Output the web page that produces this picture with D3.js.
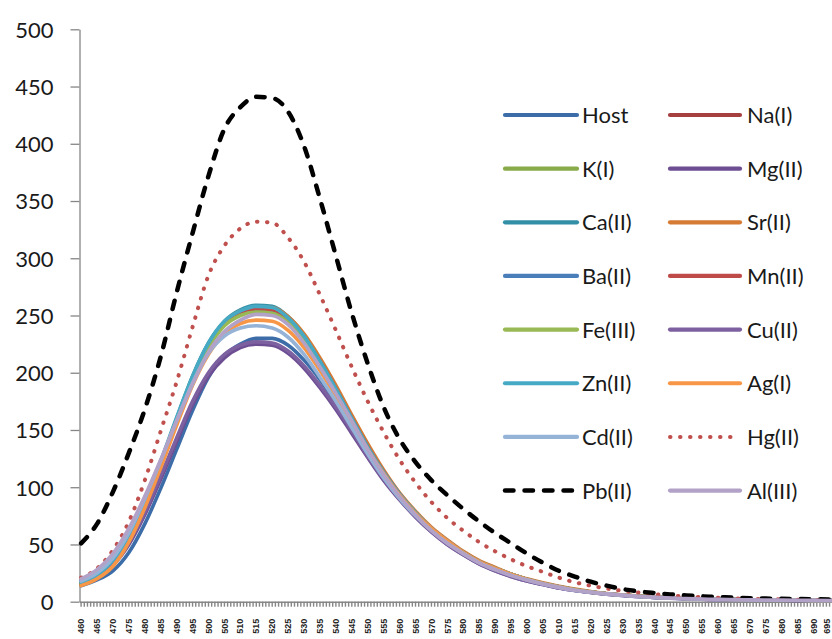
<!DOCTYPE html>
<html>
<head>
<meta charset="utf-8">
<script src="https://cdn.jsdelivr.net/npm/d3@7"></script>
<style>
  html, body { margin: 0; padding: 0; background: #fff; }
  svg { display: block; font-family: Lato, "Open Sans", sans-serif; }
</style>
</head>
<body>
<svg id="chart" width="832" height="639"></svg>
<script>
// Emission spectra (nm vs intensity) of the host and its metal-ion adducts.
const sampleNm = [460,465,470,475,480,485,490,495,500,505,510,515,520,525,530,535,540,545,550,555,560,565,570,575,580,585,590,595,600,605,610,615,620,625,630,635,640,645,650,655,660,665,670,675,680,685,690,695,700];
const yTicks = [0,50,100,150,200,250,300,350,400,450,500];

const host  = [14,19,27,43,68,99,133,167,196,215,225,230,230,224,211,194,174,152,130,110,92,76,63,52,42,34,28,23,19,15.5,12.5,10,8.2,6.8,5.6,4.6,3.8,3.2,2.7,2.3,2,1.8,1.6,1.5,1.4,1.3,1.2,1.1,1];
const naI   = [16,22,34,56,86,121,159,195,224,243,252,256,255,246,230,209,185,160,135,113,94,77,64,53,43,35,29,24,19.5,16,13,10.5,8.5,7,5.8,4.8,4,3.3,2.8,2.4,2.1,1.9,1.7,1.5,1.4,1.3,1.2,1.1,1];
const kI    = [16,22,34,55,85,120,158,194,223,242,251,254,253,245,229,208,184,159,134,112,93,77,63,52,43,35,29,24,19.5,16,13,10.5,8.5,7,5.8,4.8,4,3.3,2.8,2.4,2.1,1.9,1.7,1.5,1.4,1.3,1.2,1.1,1];
const mgII  = [18,23,32,50,76,107,140,172,197,213,222,225,224,217,204,187,168,147,126,106,89,74,61,50,41,33,27,22,18,15,12,9.8,8,6.6,5.4,4.5,3.7,3.1,2.6,2.2,1.9,1.7,1.5,1.4,1.3,1.2,1.1,1,1];
const caII  = [17,23,35,57,87,122,160,197,226,245,255,259,258,249,233,211,187,161,136,114,94,78,64,53,43,35,29,24,19.5,16,13,10.5,8.5,7,5.8,4.8,4,3.3,2.8,2.4,2.1,1.9,1.7,1.5,1.4,1.3,1.2,1.1,1];
const srII  = [15,21,33,55,85,121,159,196,225,244,254,257,257,249,234,213,189,163,138,115,95,79,65,54,44,36,30,24,20,16.5,13.5,11,8.8,7.2,6,5,4.1,3.4,2.9,2.5,2.2,1.9,1.7,1.5,1.4,1.3,1.2,1.1,1];
const baII  = [16,22,34,56,86,121,159,195,224,243,252,255,254,246,230,209,185,160,135,113,94,77,64,53,43,35,29,24,19.5,16,13,10.5,8.5,7,5.8,4.8,4,3.3,2.8,2.4,2.1,1.9,1.7,1.5,1.4,1.3,1.2,1.1,1];
const mnII  = [16,22,34,56,86,121,159,195,224,243,253,256,255,247,231,210,186,160,135,113,94,77,64,53,43,35,29,24,19.5,16,13,10.5,8.5,7,5.8,4.8,4,3.3,2.8,2.4,2.1,1.9,1.7,1.5,1.4,1.3,1.2,1.1,1];
const feIII = [16,22,34,56,86,121,158,194,222,241,250,253,252,244,228,207,184,159,134,112,93,77,63,52,43,35,29,24,19.5,16,13,10.5,8.5,7,5.8,4.8,4,3.3,2.8,2.4,2.1,1.9,1.7,1.5,1.4,1.3,1.2,1.1,1];
const cuII  = [18,24,33,52,78,110,143,175,200,216,224,227,226,219,206,189,170,149,127,107,90,74,61,50,41,33,27,22,18,15,12,9.8,8,6.6,5.4,4.5,3.7,3.1,2.6,2.2,1.9,1.7,1.5,1.4,1.3,1.2,1.1,1,1];
const znII  = [17,23,36,58,88,123,161,197,226,245,254,258,257,248,232,210,186,160,135,113,94,78,64,53,43,35,29,24,19.5,16,13,10.5,8.5,7,5.8,4.8,4,3.3,2.8,2.4,2.1,1.9,1.7,1.5,1.4,1.3,1.2,1.1,1];
const agI   = [14,20,31,52,82,117,154,189,216,234,243,246,245,237,222,202,180,157,133,112,93,77,64,53,43,35,29,24,19.5,16,13,10.5,8.5,7,5.8,4.8,4,3.3,2.8,2.4,2.1,1.9,1.7,1.5,1.4,1.3,1.2,1.1,1];
const cdII  = [18,25,38,60,90,123,158,191,217,232,239,241,239,231,216,196,175,152,129,108,90,75,62,51,42,34,28,23,19,15.5,12.5,10,8.2,6.8,5.6,4.6,3.8,3.2,2.7,2.3,2,1.8,1.6,1.5,1.4,1.3,1.2,1.1,1];
const hgII  = [21,29,45,70,106,149,192,240,285,311,326,332,331,318,297,268,237,205,175,148,124,104,87,73,62,52,44,37,31,26,21,17,14,11.5,9.5,8,6.5,5.5,4.6,4,3.4,3,2.6,2.3,2,1.8,1.6,1.5,1.4];
const pbII  = [51,68,96,130,168,214,270,322,372,413,432,441,440,428,398,352,302,252,208,170,142,122,106,93,81,70,60,51,42,34,27,22,17.5,14,11,9,7.6,6.4,5.4,4.7,4.1,3.5,3,2.7,2.5,2.3,2.1,2,1.9];
const alIII = [20,28,42,64,92,124,158,190,218,236,246,251,250,242,226,205,182,158,133,111,92,76,62,51,42,34,28,23,19,15.5,12.5,10,8.2,6.8,5.6,4.6,3.8,3.2,2.7,2.3,2,1.8,1.6,1.5,1.4,1.3,1.2,1.1,1];

const seriesNames  = ["Host","Na(I)","K(I)","Mg(II)","Ca(II)","Sr(II)","Ba(II)","Mn(II)","Fe(III)","Cu(II)","Zn(II)","Ag(I)","Cd(II)","Hg(II)","Pb(II)","Al(III)"];
const seriesValues = [host, naI, kI, mgII, caII, srII, baII, mnII, feIII, cuII, znII, agI, cdII, hgII, pbII, alIII];
const seriesColors = ["#3d6da8","#a5403e","#88aa48","#6d4e93","#338fa6","#d57b33","#4a7ebb","#be4b48","#98b954","#7d60a0","#46aac5","#f79646","#95b3d7","#c0504d","#000000","#b3a2c7"];
const seriesStyle  = ["solid","solid","solid","solid","solid","solid","solid","solid","solid","solid","solid","solid","solid","dot","dash","solid"];

// One category per nanometre on the horizontal axis, labelled every 5 nm.
const wavelengthAxis = d3.range(460, 701);

const svg = d3.select("#chart");
svg.append("rect").attr("width", 832).attr("height", 639).attr("fill", "#fff");

const plotLeft = 79.5, plotTop = 29.3, plotBottom = 601.7;
const step = 3.185;
const viewRight = 832;

const x = d3.scaleBand().domain(wavelengthAxis).range([plotLeft, plotLeft + wavelengthAxis.length * step]).padding(0);
const xc = w => x(w) + x.bandwidth() / 2;
const y = d3.scaleLinear().domain([0, 500]).range([plotBottom, plotTop]);

const axisColor = "#868686";

// Vertical axis
const yAxis = svg.append("g")
  .attr("transform", `translate(${plotLeft},0)`)
  .call(d3.axisLeft(y).tickValues(yTicks).tickSize(9).tickSizeOuter(0).tickPadding(17));
yAxis.select(".domain").attr("stroke", axisColor).attr("stroke-width", 1.3);
yAxis.selectAll(".tick line").attr("stroke", axisColor).attr("stroke-width", 1.3);
yAxis.selectAll(".tick text")
  .attr("fill", "#1a1a1a")
  .attr("dy", "0.36em")
  .style("font-size", "22px")
  .style("font-family", "Lato, 'Open Sans', sans-serif");

// Horizontal axis: tick on every nanometre, labels only where they fall inside the view
const labelled = w => w % 5 === 0 && xc(w) < viewRight;
const xAxis = svg.append("g")
  .attr("transform", `translate(0,${plotBottom})`)
  .call(d3.axisBottom(x).tickValues(wavelengthAxis).tickSize(5).tickSizeOuter(0)
    .tickFormat(w => (labelled(w) ? String(w) : "")));
xAxis.select(".domain").attr("stroke", axisColor).attr("stroke-width", 1.6);
xAxis.selectAll(".tick line").attr("stroke", axisColor).attr("stroke-width", 1.4);
xAxis.selectAll(".tick text")
  // a label sitting on the right border is nudged left so it stays whole
  .attr("transform", w => {
    const overflow = Math.max(0, xc(w) + 5 - viewRight);
    return `translate(${-overflow},0) rotate(-90)`;
  })
  .attr("x", -17)
  .attr("y", 0)
  .attr("dy", "0.35em")
  .style("text-anchor", "end")
  .attr("fill", "#222")
  .style("font-size", "9px")
  .style("font-weight", "bold")
  .style("font-family", "'Liberation Sans', Arial, sans-serif");

// Spectra
const line = d3.line()
  .x(d => xc(d[0]))
  .y(d => y(d[1]))
  .curve(d3.curveMonotoneX);

function applyStyle(sel, i) {
  const s = seriesStyle[i];
  sel.attr("stroke", seriesColors[i]).attr("fill", "none")
    .attr("stroke-linejoin", "round").attr("stroke-linecap", "round");
  if (s === "dash") {
    sel.attr("stroke-width", 4.5).attr("stroke-dasharray", "8.5,11");
  } else if (s === "dot") {
    sel.attr("stroke-width", 4).attr("stroke-dasharray", "0.5,9.5");
  } else {
    sel.attr("stroke-width", 3.6);
  }
  return sel;
}

const plot = svg.append("g");
seriesValues.forEach((vals, i) => {
  const pts = sampleNm.map((w, k) => [w, vals[k]]);
  applyStyle(plot.append("path").attr("d", line(pts)), i);
});

// Legend: two columns, series order read row by row
const legend = svg.append("g");
const rowY0 = 115, rowGap = 53.65;
const cols = [{x1: 505, x2: 577, tx: 582}, {x1: 670, x2: 740, tx: 747}];
seriesNames.forEach((name, i) => {
  const c = cols[i % 2];
  const ly = rowY0 + Math.floor(i / 2) * rowGap;
  const l = legend.append("line")
    .attr("x1", c.x1).attr("x2", c.x2).attr("y1", ly).attr("y2", ly);
  applyStyle(l, i);
  if (seriesStyle[i] === "solid") l.attr("stroke-width", 4.2);
  legend.append("text")
    .attr("x", c.tx).attr("y", ly + 8)
    .attr("fill", "#1a1a1a")
    .style("font-size", "22px")
    .text(name);
});
</script>
</body>
</html>
